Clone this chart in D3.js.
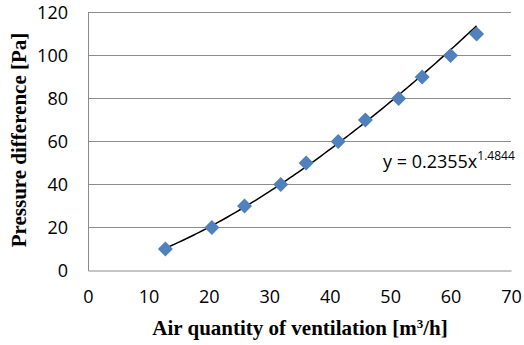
<!DOCTYPE html>
<html><head><meta charset="utf-8">
<script src="https://cdn.jsdelivr.net/npm/d3@7"></script>
<style>html,body{margin:0;padding:0;background:#fff;}svg{display:block;}</style>
</head><body><svg id="c" width="524" height="345"></svg>
<script>
const airQuantity = [12.8, 20.5, 25.9, 31.9, 36.1, 41.4, 45.9, 51.4, 55.3, 60.0, 64.3];
const pressureDiff = [10, 20, 30, 40, 50, 60, 70, 80, 90, 100, 110];
const xTicks = [0, 10, 20, 30, 40, 50, 60, 70];
const yTicks = [0, 20, 40, 60, 80, 100, 120];
const fitCoef = 0.2355, fitExp = 1.4844;
const xTitle = "Air quantity of ventilation [m";
const yTitle = "Pressure difference [Pa]";

const svg = d3.select("#c");
const x = d3.scaleLinear().domain([0, 70]).range([88, 511]);
const y = d3.scaleLinear().domain([0, 120]).range([270.5, 12.5]);
const grid = "#8c8c8c";
const tickFont = "Open Sans";

// gridlines
svg.append("g").selectAll("line").data(yTicks.filter(d => d > 0)).join("line")
  .attr("x1", x(0)).attr("x2", x(70))
  .attr("y1", d => y(d)).attr("y2", d => y(d))
  .attr("stroke", grid).attr("stroke-width", 1);

// axes via d3
const yAxis = svg.append("g").attr("transform", `translate(${x(0)},0)`)
  .call(d3.axisLeft(y).tickValues(yTicks).tickSize(0).tickPadding(20));
const xAxis = svg.append("g").attr("transform", `translate(0,${y(0)})`)
  .call(d3.axisBottom(x).tickValues(xTicks).tickSize(0).tickPadding(20));
[yAxis, xAxis].forEach(a => {
  a.select(".domain").attr("stroke", grid).attr("stroke-width", 1);
  a.selectAll("text").attr("font-family", tickFont).attr("font-size", 18).attr("fill", "#000");
});

// trendline (from displayed equation)
const xMin = d3.min(airQuantity), xMax = d3.max(airQuantity);
const fitPts = d3.range(0, 101).map(i => {
  const xv = xMin + (xMax - xMin) * i / 100;
  return [xv, fitCoef * Math.pow(xv, fitExp)];
});
svg.append("path").datum(fitPts)
  .attr("d", d3.line().x(d => x(d[0])).y(d => y(d[1])))
  .attr("fill", "none").attr("stroke", "#000").attr("stroke-width", 1.5);

// markers
const pts = airQuantity.map((v, i) => [v, pressureDiff[i]]);
const r = 7.5;
svg.append("g").selectAll("path").data(pts).join("path")
  .attr("transform", d => `translate(${x(d[0])},${y(d[1])})`)
  .attr("d", `M0,${-r}L${r},0L0,${r}L${-r},0Z`)
  .attr("fill", "#4f81bd");

// equation
const eq = svg.append("text").attr("x", 383).attr("y", 168)
  .attr("font-family", tickFont).attr("font-size", 18).attr("fill", "#000");
eq.append("tspan").text("y = " + fitCoef + "x");
eq.append("tspan").attr("dy", -8).attr("font-size", 12).text(fitExp);

// x title
const xt = svg.append("text").attr("x", 300).attr("y", 335).attr("text-anchor", "middle")
  .attr("font-family", "Liberation Serif").attr("font-weight", "bold").attr("font-size", 21);
xt.append("tspan").text(xTitle);
xt.append("tspan").attr("dy", -7).attr("font-size", 13).text("3");
xt.append("tspan").attr("dy", 7).text("/h]");

// y title
svg.append("text").attr("transform", "translate(26,140) rotate(-90)").attr("text-anchor", "middle")
  .attr("font-family", "Liberation Serif").attr("font-weight", "bold").attr("font-size", 21)
  .text(yTitle);
</script></body></html>
